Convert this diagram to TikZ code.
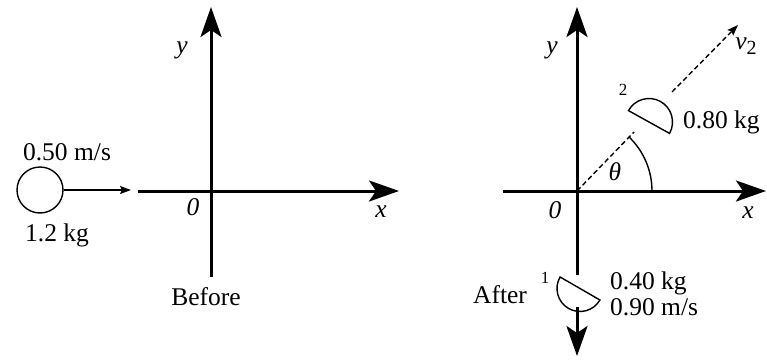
\documentclass[tikz,border=0pt]{standalone}
\usepackage{fontspec}
\setmainfont{Liberation Serif}
\usetikzlibrary{arrows.meta,calc}
\tikzset{
  axis/.style={line width=3pt,-{Stealth[length=30pt,width=21pt,inset=7pt]}},
  axisplain/.style={line width=3pt},
  thinline/.style={line width=1.4pt},
  lbl/.style={inner sep=0pt,font=\fontsize{25.5}{28}\selectfont},
  smalllbl/.style={inner sep=0pt,font=\fontsize{17}{19}\selectfont},
}
\begin{document}
\begin{tikzpicture}[x=1pt,y=-1pt]
\useasboundingbox (0,0) rectangle (767,361);
% ---------- Before ----------
\coordinate (O1) at (211,191);
\coordinate (ly1top) at (211,7);
\coordinate (ly1bot) at (211,277);
\coordinate (lx1l) at (138,191);
\coordinate (lx1r) at (399,191);
\draw[axisplain] (ly1bot) -- (O1);
\draw[axis] (O1) -- (ly1top);
\draw[axis] (lx1l) -- (lx1r);
\node[circle,draw,thinline,minimum size=46pt,inner sep=0pt] (ball) at (40,190) {};
\coordinate (vtip) at (131,190);
\draw[thinline,-{Stealth[length=11pt,width=8pt,inset=2pt]}] (ball.east) -- (vtip);
\node[lbl] (v1) at (67,152) {0.50 m/s};
\node[lbl] (m1) at (57,235) {1.2 kg};
\node[lbl] (before) at (206,297) {Before};
\node[lbl] (yl1) at (182,50) {\textit{y}};
\node[lbl] (ol1) at (193,207) {\textit{0}};
\node[lbl] (xl1) at (381,212) {\textit{x}};
% ---------- After ----------
\coordinate (O2) at (577,191);
\coordinate (ly2top) at (577,7);
\coordinate (ly2gapA) at (577,275);
\coordinate (ly2gapB) at (577,307);
\coordinate (ly2bot) at (577,356);
\coordinate (lx2l) at (503,191);
\coordinate (lx2r) at (766,191);
\draw[axisplain] (O2) -- (ly2gapA);
\draw[axis] (ly2gapB) -- (ly2bot);
\draw[axis] (O2) -- (ly2top);
\draw[axis] (lx2l) -- (lx2r);
% dashed v2 direction
\coordinate (dA) at (634,132);
\coordinate (dB) at (672,92);
\coordinate (dtip) at (738,25);
\draw[thinline,dashed,dash pattern=on 5pt off 3pt] (O2) -- (dA);
\draw[thinline,dashed,dash pattern=on 5pt off 3pt,-{Stealth[length=11pt,width=8pt,inset=2pt]}] (dB) -- (dtip);
% fragment 2 (half disc)
\coordinate (c2) at (649,122);
\draw[thinline] ($(c2)+(-29:23.5pt)$) arc[start angle=-29,end angle=151,radius=23.5pt] -- cycle;
% fragment 1 (half disc)
\coordinate (c1) at (580,288.5);
\draw[thinline] ($(c1)+(150:23pt)$) arc[start angle=150,end angle=330,radius=23pt] -- cycle;
% angle arc
\draw[thinline] ($(O2)+(0:75pt)$) arc[start angle=0,end angle=46,radius=75pt];
\node[lbl] (theta) at (615,172) {\textit{θ}};
\node[lbl] (v2) at (746,46) {\textit{v}\raisebox{-5pt}{\fontsize{20}{22}\selectfont 2}};
\node[smalllbl] (n2) at (623,90) {2};
\node[lbl,anchor=west] (m2) at (683,122) {0.80 kg};
\node[smalllbl] (n1) at (545,278) {1};
\node[lbl] (after) at (500,295) {After};
\node[lbl,anchor=west] (m3) at (610,283) {0.40 kg};
\node[lbl,anchor=west] (v3) at (610,307) {0.90 m/s};
\node[lbl] (yl2) at (552,50) {\textit{y}};
\node[lbl] (ol2) at (555,210) {\textit{0}};
\node[lbl] (xl2) at (748,213) {\textit{x}};
\end{tikzpicture}
\end{document}
